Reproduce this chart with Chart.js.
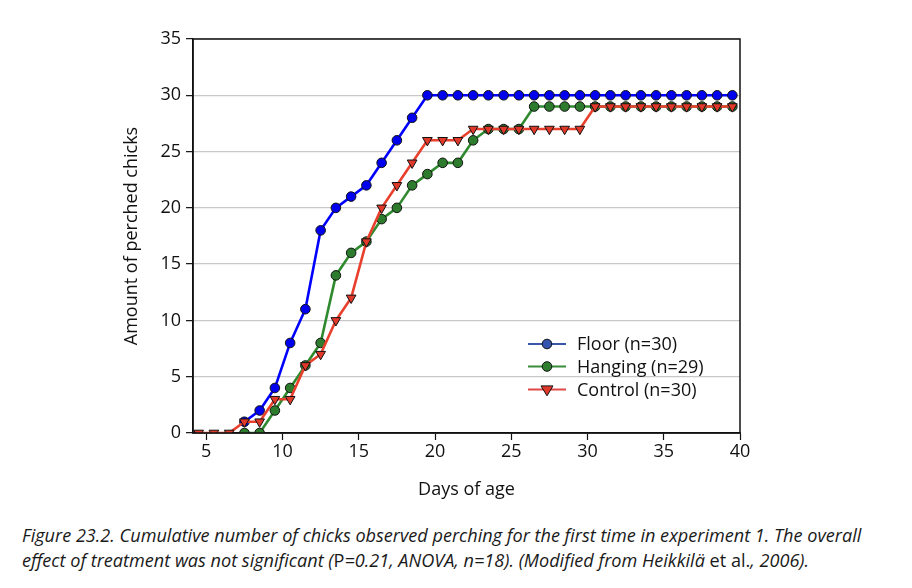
<!DOCTYPE html>
<html>
<head>
<meta charset="utf-8">
<script src="https://cdn.jsdelivr.net/npm/chart.js@4/dist/chart.umd.min.js"></script>
<style>
  html, body { margin: 0; padding: 0; background: #fff; }
  #wrap { position: absolute; left: 0; top: 0; width: 912px; height: 510px; }
  #caption { position: absolute; left: 22px; top: 523px; font-family: "Open Sans", sans-serif; font-style: italic; font-size: 18.1px; line-height: 25px; color: #1a1a1a; white-space: nowrap; }
  #caption .up { font-style: normal; }
</style>
</head>
<body>
<div id="wrap"><canvas id="c"></canvas></div>
<div id="caption">Figure 23.2. Cumulative number of chicks observed perching for the first time in experiment 1. The overall<br>effect of treatment was not significant (<span class="up">P</span>=0.21, ANOVA, n=18). (Modified from Heikkilä <span class="up">et al.</span>, 2006).</div>
<script>
const days = [4.5,5.5,6.5,7.5,8.5,9.5,10.5,11.5,12.5,13.5,14.5,15.5,16.5,17.5,18.5,19.5,20.5,21.5,22.5,23.5,24.5,25.5,26.5,27.5,28.5,29.5,30.5,31.5,32.5,33.5,34.5,35.5,36.5,37.5,38.5,39.5];
const floorVals = [null,null,null,1,2,4,8,11,18,20,21,22,24,26,28,30,30,30,30,30,30,30,30,30,30,30,30,30,30,30,30,30,30,30,30,30];
const hangingVals = [null,null,null,0,0,2,4,6,8,14,16,17,19,20,22,23,24,24,26,27,27,27,29,29,29,29,29,29,29,29,29,29,29,29,29,29];
const controlVals = [0,0,0,1,1,3,3,6,7,10,12,17,20,22,24,26,26,26,27,27,27,27,27,27,27,27,29,29,29,29,29,29,29,29,29,29];
const xTicks = [5,10,15,20,25,30,35,40];
const yTicks = [0,5,10,15,20,25,30,35];
const seriesNames = ["Floor (n=30)", "Hanging (n=29)", "Control (n=30)"];

const FONT = '"Open Sans", sans-serif';
const FS = 18;
const toPts = vals => days.map((d, i) => ({x: d, y: vals[i]}));

const legendStyles = [
  {line: '#3a56a8', fill: '#3355b0', shape: 'circle'},
  {line: '#3b8c3b', fill: '#2f7d2f', shape: 'circle'},
  {line: '#e04848', fill: '#e0392a', shape: 'tri'}
];

function drawMarker(ctx, shape, x, y, r, fill) {
  ctx.save();
  ctx.fillStyle = fill;
  ctx.strokeStyle = '#111';
  ctx.lineWidth = 1;
  ctx.beginPath();
  if (shape === 'circle') {
    ctx.arc(x, y, r, 0, Math.PI * 2);
  } else {
    const s = r * 1.25;
    ctx.moveTo(x - s, y - s * 0.6);
    ctx.lineTo(x + s, y - s * 0.6);
    ctx.lineTo(x, y + s * 1.05);
    ctx.closePath();
  }
  ctx.fill();
  ctx.stroke();
  ctx.restore();
}

const boxAndLegend = {
  id: 'boxAndLegend',
  afterDatasetsDraw(chart) {
    const {ctx, chartArea: a} = chart;
    ctx.save();
    ctx.strokeStyle = '#111';
    ctx.lineWidth = 1.5;
    ctx.strokeRect(a.left, a.top, a.right - a.left, a.bottom - a.top);
    ctx.restore();
  },
  afterDraw(chart) {
    const {ctx} = chart;
    const rowsY = [344, 366.5, 389.5];
    ctx.save();
    ctx.font = FS + 'px ' + FONT;
    ctx.textBaseline = 'middle';
    seriesNames.forEach((name, i) => {
      const st = legendStyles[i];
      const y = rowsY[i];
      ctx.strokeStyle = st.line;
      ctx.lineWidth = 2;
      ctx.beginPath();
      ctx.moveTo(528, y);
      ctx.lineTo(566, y);
      ctx.stroke();
      drawMarker(ctx, st.shape, 547, y, 4.8, st.fill);
      ctx.fillStyle = '#111';
      ctx.fillText(name, 577, y + 1);
    });
    ctx.restore();
  }
};

const common = {
  borderWidth: 2.6,
  pointRadius: 4.8,
  pointBorderWidth: 1,
  pointBorderColor: '#111',
  tension: 0,
  spanGaps: false,
  fill: false
};

new Chart(document.getElementById('c'), {
  type: 'line',
  data: {
    datasets: [
      Object.assign({}, common, {label: seriesNames[2], data: toPts(controlVals), borderColor: '#e8402c', pointBackgroundColor: '#e0392a', pointStyle: 'triangle', pointRotation: 180, pointRadius: 5.6, order: 0}),
      Object.assign({}, common, {label: seriesNames[1], data: toPts(hangingVals), borderColor: '#2f8a2f', pointBackgroundColor: '#2d7b2d', pointStyle: 'circle', order: 1}),
      Object.assign({}, common, {label: seriesNames[0], data: toPts(floorVals), borderColor: '#0000ff', pointBackgroundColor: '#0000ee', pointStyle: 'circle', order: 2})
    ]
  },
  options: {
    responsive: true,
    maintainAspectRatio: false,
    animation: false,
    layout: {padding: {left: 120, top: 39, right: 172, bottom: 0}},
    plugins: {legend: {display: false}, tooltip: {enabled: false}},
    scales: {
      x: {
        type: 'linear',
        min: 4.13,
        max: 40,
        afterBuildTicks: s => { s.ticks = xTicks.map(v => ({value: v})); },
        afterFit: s => { s.height = 77; },
        grid: {drawOnChartArea: false, drawTicks: true, tickLength: 7, tickColor: '#111', tickWidth: 1.2},
        border: {display: true, color: '#111', width: 1.5},
        ticks: {color: '#111', padding: 1, font: {family: FONT, size: FS}, maxRotation: 0, autoSkip: false},
        title: {display: true, text: 'Days of age', color: '#111', font: {family: FONT, size: FS}, padding: {top: 0, bottom: 9}}
      },
      y: {
        type: 'linear',
        min: 0,
        max: 35,
        afterBuildTicks: s => { s.ticks = yTicks.map(v => ({value: v})); },
        afterFit: s => { s.width = 73; },
        grid: {color: '#c8c8c8', lineWidth: 1.3, drawTicks: true, tickLength: 7, tickColor: '#111', tickWidth: 1.2},
        border: {display: true, color: '#111', width: 1.5},
        ticks: {color: '#111', padding: 5, font: {family: FONT, size: FS}, autoSkip: false},
        title: {display: true, text: 'Amount of perched chicks', color: '#111', font: {family: FONT, size: FS}, padding: {top: 1, bottom: 0}}
      }
    }
  },
  plugins: [boxAndLegend]
});
</script>
</body>
</html>
